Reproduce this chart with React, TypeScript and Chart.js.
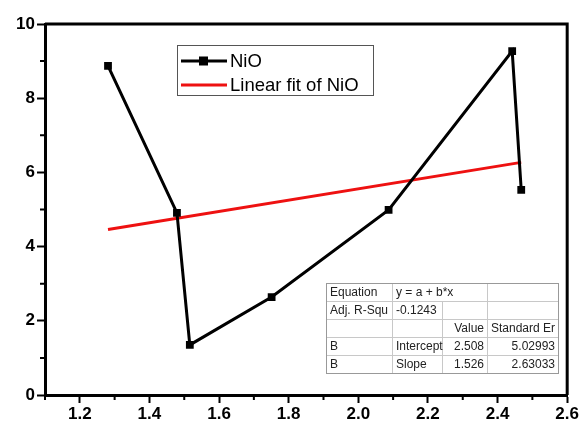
import React, { useEffect, useRef } from "react";
import { Chart, registerables } from "chart.js";

Chart.register(...registerables);

const nioX = [1.281, 1.479, 1.516, 1.751, 2.087, 2.442, 2.468];
const nioY = [8.87, 4.91, 1.35, 2.64, 4.99, 9.27, 5.53];
const fitX = [1.281, 2.468];
const fitY = [4.46, 6.27];
const xMajor = [1.2, 1.4, 1.6, 1.8, 2.0, 2.2, 2.4, 2.6];
const xMinor = [1.1, 1.3, 1.5, 1.7, 1.9, 2.1, 2.3, 2.5];
const yMajor = [0, 2, 4, 6, 8, 10];
const yMinor = [1, 3, 5, 7, 9];
const seriesLabels = ["NiO", "Linear fit of NiO"];
const tableRows = [
  ["Equation", "y = a + b*x", "", ""],
  ["Adj. R-Squ", "-0.1243", "", ""],
  ["", "", "Value", "Standard Er"],
  ["B", "Intercept", "2.508", "5.02993"],
  ["B", "Slope", "1.526", "2.63033"],
];

const FONT = "'Liberation Sans', Arial, sans-serif";

const framePlugin = {
  id: "frame",
  afterDraw(chart: any) {
    const { ctx, chartArea: a, scales } = chart;
    ctx.save();
    // top/right frame
    ctx.strokeStyle = "#000";
    ctx.lineWidth = 3;
    ctx.beginPath();
    ctx.moveTo(a.left, a.top);
    ctx.lineTo(a.right, a.top);
    ctx.lineTo(a.right, a.bottom);
    ctx.stroke();
    // minor ticks
    ctx.lineWidth = 2;
    ctx.beginPath();
    xMinor.forEach((v) => {
      const px = scales.x.getPixelForValue(v);
      ctx.moveTo(px, a.bottom);
      ctx.lineTo(px, a.bottom + 5);
    });
    yMinor.forEach((v) => {
      const py = scales.y.getPixelForValue(v);
      ctx.moveTo(a.left, py);
      ctx.lineTo(a.left - 5, py);
    });
    ctx.stroke();

    // legend
    const lx = a.left + 132;
    const ly = a.top + 21;
    const lw = 196;
    const lh = 50;
    ctx.fillStyle = "#fff";
    ctx.fillRect(lx, ly, lw, lh);
    ctx.strokeStyle = "#555";
    ctx.lineWidth = 1;
    ctx.strokeRect(lx + 0.5, ly + 0.5, lw, lh);
    const r1 = ly + 16;
    const r2 = ly + 40;
    ctx.strokeStyle = "#000";
    ctx.lineWidth = 3;
    ctx.beginPath();
    ctx.moveTo(lx + 4, r1);
    ctx.lineTo(lx + 50, r1);
    ctx.stroke();
    ctx.fillStyle = "#000";
    ctx.fillRect(lx + 22, r1 - 4.5, 9, 9);
    ctx.strokeStyle = "#ee1111";
    ctx.beginPath();
    ctx.moveTo(lx + 4, r2);
    ctx.lineTo(lx + 50, r2);
    ctx.stroke();
    ctx.fillStyle = "#000";
    ctx.font = `18.5px ${FONT}`;
    ctx.textBaseline = "middle";
    ctx.textAlign = "left";
    ctx.fillText(seriesLabels[0], lx + 53, r1 + 1);
    ctx.fillText(seriesLabels[1], lx + 53, r2 + 1);

    // table
    const tx = 326;
    const ty = 283;
    const cols = [326, 392, 442, 487, 558];
    const rh = 18;
    ctx.fillStyle = "#fff";
    ctx.fillRect(tx, ty, cols[4] - tx, rh * 5);
    ctx.strokeStyle = "#c8c8c8";
    ctx.lineWidth = 1;
    ctx.beginPath();
    for (let i = 0; i <= 5; i++) {
      ctx.moveTo(tx, ty + i * rh + 0.5);
      ctx.lineTo(cols[4], ty + i * rh + 0.5);
    }
    cols.forEach((c, i) => {
      if (i === 2) {
        ctx.moveTo(c + 0.5, ty + rh);
        ctx.lineTo(c + 0.5, ty + rh * 5);
      } else {
        ctx.moveTo(c + 0.5, ty);
        ctx.lineTo(c + 0.5, ty + rh * 5);
      }
    });
    ctx.stroke();
    ctx.strokeStyle = "#999";
    ctx.strokeRect(tx + 0.5, ty + 0.5, cols[4] - tx, rh * 5);
    ctx.fillStyle = "#222";
    ctx.font = `12px ${FONT}`;
    tableRows.forEach((row, ri) => {
      const cy = ty + ri * rh + rh / 2 + 1;
      row.forEach((txt, ci) => {
        if (!txt) return;
        if (ci >= 2) {
          ctx.textAlign = "right";
          ctx.fillText(txt, cols[ci + 1] - 3, cy);
        } else {
          ctx.textAlign = "left";
          ctx.fillText(txt, cols[ci] + 4, cy);
        }
      });
    });
    ctx.restore();
  },
};

export default function App() {
  const ref = useRef<HTMLCanvasElement>(null);
  useEffect(() => {
    const chart = new Chart(ref.current!, {
      type: "scatter",
      data: {
        datasets: [
          {
            label: seriesLabels[0],
            data: nioX.map((x, i) => ({ x, y: nioY[i] })),
            showLine: true,
            borderColor: "#000",
            backgroundColor: "#000",
            borderWidth: 3,
            pointStyle: "rect",
            pointRadius: 5.5,
            pointBorderWidth: 0,
          },
          {
            label: seriesLabels[1],
            data: fitX.map((x, i) => ({ x, y: fitY[i] })),
            showLine: true,
            borderColor: "#ee1111",
            backgroundColor: "#ee1111",
            borderWidth: 3,
            pointRadius: 0,
          },
        ],
      },
      options: {
        animation: false,
        responsive: false,
        events: [],
        layout: { padding: { top: 24, right: 12, left: 0, bottom: 0 } },
        plugins: { legend: { display: false }, tooltip: { enabled: false } },
        scales: {
          x: {
            type: "linear",
            min: 1.1,
            max: 2.6,
            afterBuildTicks: (s: any) => {
              s.ticks = xMajor.map((v) => ({ value: v }));
            },
            afterFit: (s: any) => {
              s.height = 32;
            },
            grid: {
              drawOnChartArea: false,
              drawTicks: true,
              tickLength: 8,
              tickWidth: 2,
              tickColor: "#000",
            },
            border: { display: true, color: "#000", width: 3 },
            ticks: {
              padding: 1,
              color: "#000",
              font: { family: FONT, size: 17, weight: "bold" },
              callback: (v: any) => Number(v).toFixed(1),
            },
          },
          y: {
            type: "linear",
            min: 0,
            max: 10,
            afterBuildTicks: (s: any) => {
              s.ticks = yMajor.map((v) => ({ value: v }));
            },
            afterFit: (s: any) => {
              s.width = 45;
            },
            grid: {
              drawOnChartArea: false,
              drawTicks: true,
              tickLength: 8,
              tickWidth: 2,
              tickColor: "#000",
            },
            border: { display: true, color: "#000", width: 3 },
            ticks: {
              padding: 2,
              color: "#000",
              font: { family: FONT, size: 17, weight: "bold" },
              callback: (v: any) => String(v),
            },
          },
        },
      } as any,
      plugins: [framePlugin],
    });
    return () => chart.destroy();
  }, []);
  return (
    <div style={{ position: "fixed", left: 0, top: 0, width: 580, height: 427, background: "#fff" }}>
      <canvas ref={ref} width={580} height={427} style={{ display: "block" }} />
    </div>
  );
}
